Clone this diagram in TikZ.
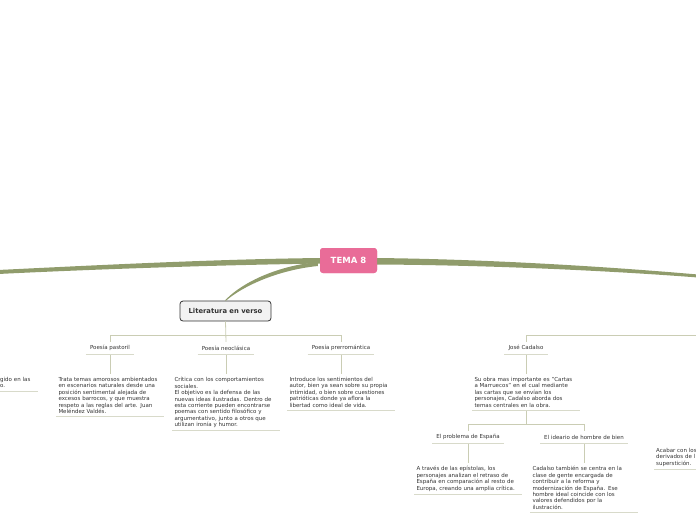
\documentclass[tikz,border=0pt]{standalone}
\usepackage{fontspec}
\setmainfont{DejaVu Sans}
\usepackage{xcolor}
\definecolor{temapink}{HTML}{E96C98}
\definecolor{branchgreen}{HTML}{909C6C}
\definecolor{linegray}{HTML}{CACDB4}
\definecolor{ulinegray}{HTML}{D8DACA}
\definecolor{textgray}{HTML}{333333}
\usepackage{tikz}
\usetikzlibrary{positioning, calc}

\begin{document}
\begin{tikzpicture}[x=1pt, y=-1pt,
    tema/.style={rectangle, rounded corners=3pt, fill=temapink, text=white, minimum width=57pt, minimum height=25pt, font=\fontsize{8.5}{10}\selectfont\bfseries},
    mainbox/.style={rectangle, rounded corners=3pt, draw=textgray, line width=0.8pt, fill=gray!10, minimum width=91pt, minimum height=20pt, font=\fontsize{6.8}{8}\selectfont\bfseries, text=textgray},
    topic/.style={inner sep=0pt, inner xsep=4pt, minimum height=12pt, font=\fontsize{5.5}{6.4}\selectfont, text=textgray},
    desc/.style={text width=103pt, inner xsep=2pt, inner ysep=3pt, align=left, font=\fontsize{5.5}{6.4}\selectfont, text=textgray},
    conn/.style={draw=linegray, line width=0.8pt},
    uline/.style={draw=ulinegray, line width=1pt},
    branch/.style={fill=branchgreen},
]
    \clip (0,0) rectangle (696,520);

    % central topic and first subtopic
    \node[tema] (tema) at (348.5,260.5) {};
    \node[mainbox] (lit) at (225.5,311) {Literatura en verso};

    % thick branches
    \fill[branch] ($(tema.west)+(2,-2.5)$) .. controls (220,259) and (100,265) .. (-2,270)
        -- (-2,274) .. controls (100,269) and (220,265) .. ($(tema.west)+(2,3)$) -- cycle;
    \fill[branch] ($(tema.east)+(-2,-2.5)$) .. controls (480,259) and (600,266) .. (698,274.5)
        -- (698,277.5) .. controls (600,270) and (480,265) .. ($(tema.east)+(-2,4)$) -- cycle;
    \fill[branch] ($(tema.west)+(-2,1.5)$) .. controls (275,266) and (240,284) .. ($(lit.north)+(-0.6,0)$)
        -- ($(lit.north)+(0.6,0)$) .. controls (243,286) and (278,270) .. ($(tema.west)+(-2,5.5)$) -- cycle;
    \node[tema] at (tema) {TEMA 8};

    % Literatura en verso
    \node[topic] (pastoril) at (110,348) {Poesía pastoril};
    \node[topic] (neoclas) at (226,348) {Poesía neoclásica};
    \node[topic] (prerrom) at (341,348) {Poesía prerromántica};

    \node[desc, below=20pt of pastoril] (pastoriltxt) {Trata temas amorosos ambientados\\en escenarios naturales desde una\\posición sentimental alejada de\\excesos barrocos, y que muestra\\respeto a las reglas del arte. Juan\\Meléndez Valdés.};
    \node[desc, below=20pt of neoclas] (neoclastxt) {Crítica con los comportamientos\\sociales.\\El objetivo es la defensa de las\\nuevas ideas ilustradas. Dentro de\\esta corriente pueden encontrarse\\poemas con sentido filosófico y\\argumentativo, junto a otros que\\utilizan ironía y humor.};
    \node[desc, below=20pt of prerrom] (prerromtxt) {Introduce los sentimientos del\\autor, bien ya sean sobre su propia\\intimidad, o bien sobre cuestiones\\patrióticas donde ya aflora la\\libertad como ideal de vida.};

    \coordinate (bar1) at ($(lit.south)+(0,14)$);
    \draw[conn] (lit.south) -- (neoclas.north);
    \draw[conn] (pastoril.north) |- (bar1) -| (prerrom.north);
    \draw[conn] (pastoril.south) -- (pastoriltxt.north);
    \draw[conn] (neoclas.south) -- (neoclastxt.north);
    \draw[conn] (prerrom.south) -- (prerromtxt.north);

    % José Cadalso
    \node[topic] (cadalso) at (526,348) {José Cadalso};
    \node[desc, below=20pt of cadalso] (cadalsotxt) {Su obra mas importante es "Cartas\\a Marruecos" en el cual mediante\\las cartas que se envían los\\personajes, Cadalso aborda dos\\temas centrales en la obra.};
    \coordinate (barR) at (700,335);
    \draw[conn] (cadalso.north) |- (barR);
    \draw[conn] (cadalso.south) -- (cadalsotxt.north);

    \node[topic] (problema) at (468,437) {El problema de España};
    \node[topic] (ideario) at (584,437) {El ideario de hombre de bien};
    \node[desc, below=20pt of problema] (problematxt) {A través de las epístolas, los\\personajes analizan el retraso de\\España en comparación al resto de\\Europa, creando una amplia crítica.};
    \node[desc, below=20pt of ideario] (ideariotxt) {Cadalso también se centra en la\\clase de gente encargada de\\contribuir a la reforma y\\modernización de España. Ese\\hombre ideal coincide con los\\valores defendidos por la\\ilustración.};

    \coordinate (bar2) at ($(cadalsotxt.south)+(0,14)$);
    \draw[conn] (cadalsotxt.south) -- (bar2);
    \draw[conn] (problema.north) |- (bar2) -| (ideario.north);
    \draw[conn] (problema.south) -- (problematxt.north);
    \draw[conn] (ideario.south) -- (ideariotxt.north);

    % cut at the edges
    \node[desc, text width=36pt, anchor=north west] (lefttxt) at (-2,374) {gido en las\\o.};
    \node[desc, anchor=north west] (righttxt) at (654,445) {Acabar con los\\derivados de l\\superstición.};

    \foreach \n in {pastoril, neoclas, prerrom, cadalso, problema, ideario,
        pastoriltxt, neoclastxt, prerromtxt, cadalsotxt, problematxt, ideariotxt, lefttxt, righttxt}
        \draw[uline] (\n.south west) -- (\n.south east);
\end{tikzpicture}
\end{document}
